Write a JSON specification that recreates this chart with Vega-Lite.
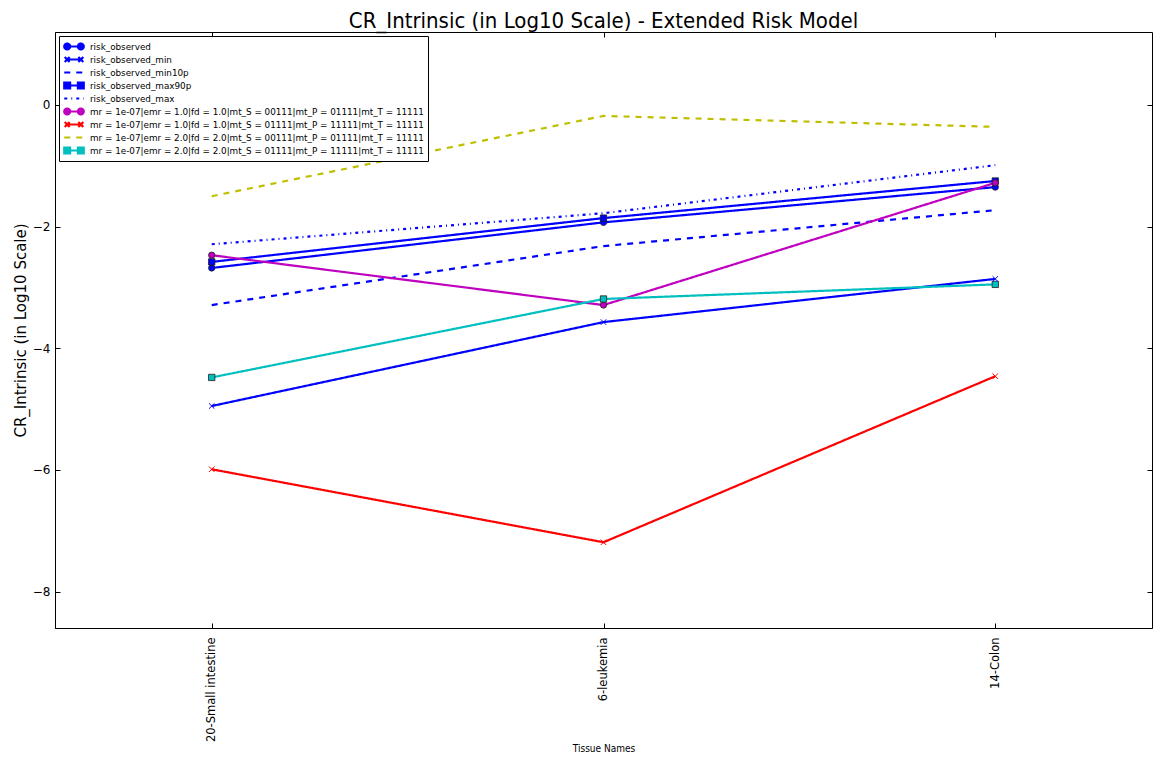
{
  "$schema": "https://vega.github.io/schema/vega-lite/v6.json",
  "width": 1097,
  "height": 596,
  "autosize": {"type": "none"},
  "padding": {"left": 55, "top": 32, "right": 2, "bottom": 132},
  "background": "white",
  "title": {
    "text": "CR_Intrinsic (in Log10 Scale) - Extended Risk Model",
    "font": "DejaVu Sans Condensed",
    "fontSize": 22,
    "fontWeight": "normal",
    "color": "black",
    "anchor": "middle",
    "offset": -1
  },
  "config": {
    "view": {"stroke": "black", "strokeWidth": 1},
    "axis": {
      "grid": false,
      "domainColor": "black",
      "tickColor": "black",
      "labelColor": "black",
      "titleColor": "black",
      "labelFont": "DejaVu Sans",
      "labelFontSize": 12,
      "titleFontWeight": "normal"
    }
  },
  "data": {
    "values": [
      {"series": "risk_observed", "tissue": "20-Small intestine", "value": -2.68},
      {"series": "risk_observed", "tissue": "6-leukemia", "value": -1.93},
      {"series": "risk_observed", "tissue": "14-Colon", "value": -1.35},
      {"series": "risk_observed_min", "tissue": "20-Small intestine", "value": -4.95},
      {"series": "risk_observed_min", "tissue": "6-leukemia", "value": -3.57},
      {"series": "risk_observed_min", "tissue": "14-Colon", "value": -2.86},
      {"series": "risk_observed_min10p", "tissue": "20-Small intestine", "value": -3.29},
      {"series": "risk_observed_min10p", "tissue": "6-leukemia", "value": -2.32},
      {"series": "risk_observed_min10p", "tissue": "14-Colon", "value": -1.73},
      {"series": "risk_observed_max90p", "tissue": "20-Small intestine", "value": -2.58},
      {"series": "risk_observed_max90p", "tissue": "6-leukemia", "value": -1.86},
      {"series": "risk_observed_max90p", "tissue": "14-Colon", "value": -1.25},
      {"series": "risk_observed_max", "tissue": "20-Small intestine", "value": -2.29},
      {"series": "risk_observed_max", "tissue": "6-leukemia", "value": -1.78},
      {"series": "risk_observed_max", "tissue": "14-Colon", "value": -0.99},
      {"series": "mr = 1e-07|emr = 1.0|fd = 1.0|mt_S = 00111|mt_P = 01111|mt_T = 11111", "tissue": "20-Small intestine", "value": -2.47},
      {"series": "mr = 1e-07|emr = 1.0|fd = 1.0|mt_S = 00111|mt_P = 01111|mt_T = 11111", "tissue": "6-leukemia", "value": -3.29},
      {"series": "mr = 1e-07|emr = 1.0|fd = 1.0|mt_S = 00111|mt_P = 01111|mt_T = 11111", "tissue": "14-Colon", "value": -1.28},
      {"series": "mr = 1e-07|emr = 1.0|fd = 1.0|mt_S = 01111|mt_P = 11111|mt_T = 11111", "tissue": "20-Small intestine", "value": -5.99},
      {"series": "mr = 1e-07|emr = 1.0|fd = 1.0|mt_S = 01111|mt_P = 11111|mt_T = 11111", "tissue": "6-leukemia", "value": -7.19},
      {"series": "mr = 1e-07|emr = 1.0|fd = 1.0|mt_S = 01111|mt_P = 11111|mt_T = 11111", "tissue": "14-Colon", "value": -4.46},
      {"series": "mr = 1e-07|emr = 2.0|fd = 2.0|mt_S = 00111|mt_P = 01111|mt_T = 11111", "tissue": "20-Small intestine", "value": -1.5},
      {"series": "mr = 1e-07|emr = 2.0|fd = 2.0|mt_S = 00111|mt_P = 01111|mt_T = 11111", "tissue": "6-leukemia", "value": -0.18},
      {"series": "mr = 1e-07|emr = 2.0|fd = 2.0|mt_S = 00111|mt_P = 01111|mt_T = 11111", "tissue": "14-Colon", "value": -0.36},
      {"series": "mr = 1e-07|emr = 2.0|fd = 2.0|mt_S = 01111|mt_P = 11111|mt_T = 11111", "tissue": "20-Small intestine", "value": -4.48},
      {"series": "mr = 1e-07|emr = 2.0|fd = 2.0|mt_S = 01111|mt_P = 11111|mt_T = 11111", "tissue": "6-leukemia", "value": -3.19},
      {"series": "mr = 1e-07|emr = 2.0|fd = 2.0|mt_S = 01111|mt_P = 11111|mt_T = 11111", "tissue": "14-Colon", "value": -2.95}
    ]
  },
  "resolve": {"axis": {"x": "independent", "y": "independent"}},
  "layer": [
    {
      "mark": {"type": "line", "strokeWidth": 2.2},
      "encoding": {
        "x": {
          "field": "tissue",
          "type": "nominal",
          "sort": ["20-Small intestine", "6-leukemia", "14-Colon"],
          "scale": {"type": "point", "padding": 0.4},
          "axis": {
            "title": "Tissue Names",
            "titleFont": "DejaVu Sans Condensed",
            "titleFontSize": 10,
            "titlePadding": 2,
            "labelAngle": -90,
            "labelFontSize": 11.5,
            "tickSize": -5,
            "labelPadding": 14
          }
        },
        "y": {
          "field": "value",
          "type": "quantitative",
          "scale": {"domain": [-8.6, 1.2], "nice": false, "zero": false},
          "axis": {
            "title": "CR_Intrinsic (in Log10 Scale)",
            "titleFont": "DejaVu Sans",
            "titleFontSize": 15,
            "titlePadding": 4,
            "values": [-8, -6, -4, -2, 0],
            "format": "d",
            "labelExpr": "replace(datum.label, '-', '\u2212')",
            "tickSize": -5,
            "labelPadding": 10
          }
        },
        "order": {"value": null},
        "color": {
          "field": "series",
          "type": "nominal",
          "scale": {
            "domain": [
              "risk_observed", "risk_observed_min", "risk_observed_min10p", "risk_observed_max90p", "risk_observed_max",
              "mr = 1e-07|emr = 1.0|fd = 1.0|mt_S = 00111|mt_P = 01111|mt_T = 11111",
              "mr = 1e-07|emr = 1.0|fd = 1.0|mt_S = 01111|mt_P = 11111|mt_T = 11111",
              "mr = 1e-07|emr = 2.0|fd = 2.0|mt_S = 00111|mt_P = 01111|mt_T = 11111",
              "mr = 1e-07|emr = 2.0|fd = 2.0|mt_S = 01111|mt_P = 11111|mt_T = 11111"
            ],
            "range": ["#0000ff", "#0000ff", "#0000ff", "#0000ff", "#0000ff", "#bf00bf", "#ff0000", "#bfbf00", "#00bfbf"]
          },
          "legend": {
            "title": null,
            "orient": "top-left",
            "offset": 4,
            "symbolType": "stroke",
            "symbolSize": 380,
            "symbolStrokeWidth": 2.2,
            "clipHeight": 13,
            "rowPadding": 0,
            "labelFont": "DejaVu Sans",
            "labelFontSize": 8.8,
            "labelColor": "black",
            "labelOffset": 5,
            "labelLimit": 500,
            "padding": 4,
            "strokeColor": "black",
            "fillColor": "white",
            "cornerRadius": 0,
            "encode": {
              "symbols": {
                "update": {
                  "shape": {"signal": "(datum.index == 0 || datum.index == 5) ? 'M-0.7,0L0.7,0M-1.0,0A0.3,0.3 0 1,0 -0.4,0A0.3,0.3 0 1,0 -1.0,0ZM0.4,0A0.3,0.3 0 1,0 1.0,0A0.3,0.3 0 1,0 0.4,0Z' : (datum.index == 3 || datum.index == 8) ? 'M-0.7,0L0.7,0M-1.0,-0.3H-0.4V0.3H-1.0ZM0.4,-0.3H1.0V0.3H0.4Z' : (datum.index == 1 || datum.index == 6) ? 'M-0.7,0L0.7,0M-0.95,-0.25L-0.45,0.25M-0.95,0.25L-0.45,-0.25M0.45,-0.25L0.95,0.25M0.45,0.25L0.95,-0.25' : 'M-1,0L1,0'"},
                  "fill": {"signal": "(datum.index == 0 || datum.index == 5 || datum.index == 3 || datum.index == 8) ? scale('color', datum.value) : 'transparent'"}
                }
              }
            }
          }
        },
        "strokeDash": {
          "field": "series",
          "type": "nominal",
          "scale": {
            "domain": [
              "risk_observed", "risk_observed_min", "risk_observed_min10p", "risk_observed_max90p", "risk_observed_max",
              "mr = 1e-07|emr = 1.0|fd = 1.0|mt_S = 00111|mt_P = 01111|mt_T = 11111",
              "mr = 1e-07|emr = 1.0|fd = 1.0|mt_S = 01111|mt_P = 11111|mt_T = 11111",
              "mr = 1e-07|emr = 2.0|fd = 2.0|mt_S = 00111|mt_P = 01111|mt_T = 11111",
              "mr = 1e-07|emr = 2.0|fd = 2.0|mt_S = 01111|mt_P = 11111|mt_T = 11111"
            ],
            "range": [[1, 0], [1, 0], [6, 6], [1, 0], [3, 4, 1, 4], [1, 0], [1, 0], [6, 6], [1, 0]]
          },
          "legend": {
            "title": null,
            "orient": "top-left",
            "offset": 4,
            "symbolType": "stroke",
            "symbolSize": 380,
            "symbolStrokeWidth": 2.2,
            "clipHeight": 13,
            "rowPadding": 0,
            "labelFont": "DejaVu Sans",
            "labelFontSize": 8.8,
            "labelColor": "black",
            "labelOffset": 5,
            "labelLimit": 500,
            "padding": 4,
            "strokeColor": "black",
            "fillColor": "white",
            "cornerRadius": 0
          }
        }
      }
    },
    {
      "transform": [
        {"filter": {"field": "series", "oneOf": [
          "risk_observed", "risk_observed_max90p",
          "mr = 1e-07|emr = 1.0|fd = 1.0|mt_S = 00111|mt_P = 01111|mt_T = 11111",
          "mr = 1e-07|emr = 2.0|fd = 2.0|mt_S = 01111|mt_P = 11111|mt_T = 11111"
        ]}}
      ],
      "mark": {"type": "point", "filled": true, "opacity": 1, "stroke": "#202020", "strokeWidth": 0.8},
      "encoding": {
        "x": {
          "field": "tissue",
          "type": "nominal",
          "sort": ["20-Small intestine", "6-leukemia", "14-Colon"],
          "scale": {"type": "point", "padding": 0.4},
          "axis": {"orient": "top", "labels": false, "title": null, "domain": false, "tickSize": -5}
        },
        "y": {
          "field": "value",
          "type": "quantitative",
          "scale": {"domain": [-8.6, 1.2], "nice": false, "zero": false},
          "axis": {"orient": "right", "labels": false, "title": null, "domain": false, "tickSize": -5, "values": [-8, -6, -4, -2, 0]}
        },
        "color": {"field": "series", "type": "nominal", "legend": null},
        "shape": {
          "field": "series",
          "type": "nominal",
          "scale": {
            "domain": [
              "risk_observed", "risk_observed_max90p",
              "mr = 1e-07|emr = 1.0|fd = 1.0|mt_S = 00111|mt_P = 01111|mt_T = 11111",
              "mr = 1e-07|emr = 2.0|fd = 2.0|mt_S = 01111|mt_P = 11111|mt_T = 11111"
            ],
            "range": ["circle", "square", "circle", "square"]
          },
          "legend": null
        },
        "size": {"value": 40}
      }
    },
    {
      "transform": [
        {"filter": {"field": "series", "oneOf": [
          "risk_observed_min",
          "mr = 1e-07|emr = 1.0|fd = 1.0|mt_S = 01111|mt_P = 11111|mt_T = 11111"
        ]}}
      ],
      "mark": {"type": "point", "filled": false, "opacity": 1, "strokeWidth": 1, "shape": "M-1,-1L1,1M-1,1L1,-1"},
      "encoding": {
        "x": {
          "field": "tissue",
          "type": "nominal",
          "sort": ["20-Small intestine", "6-leukemia", "14-Colon"],
          "scale": {"type": "point", "padding": 0.4},
          "axis": null
        },
        "y": {
          "field": "value",
          "type": "quantitative",
          "scale": {"domain": [-8.6, 1.2], "nice": false, "zero": false},
          "axis": null
        },
        "color": {"field": "series", "type": "nominal", "legend": null},
        "size": {"value": 30}
      }
    }
  ]
}
